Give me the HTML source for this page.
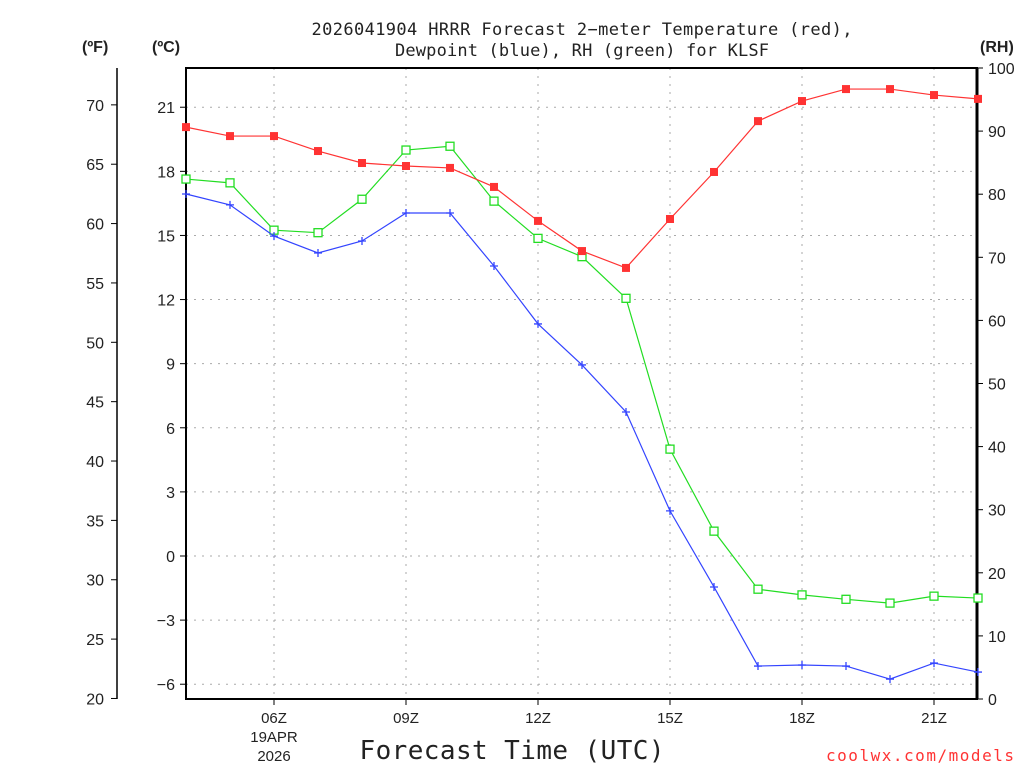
<!DOCTYPE html>
<html><head><meta charset="utf-8"><style>
body{margin:0;background:#fff;width:1024px;height:768px;overflow:hidden}
svg text{font-family:"Liberation Sans",sans-serif;fill:#222}
svg text.mono{font-family:"DejaVu Sans Mono","Liberation Mono",monospace}
</style></head><body>
<svg id="c" width="1024" height="768" xmlns="http://www.w3.org/2000/svg"></svg>
<script>
const hours=[4,5,6,7,8,9,10,11,12,13,14,15,16,17,18,19,20,21,22];
const tempC=[20.07,19.65,19.65,18.95,18.39,18.25,18.16,17.27,15.68,14.27,13.48,15.77,17.97,20.35,21.29,21.85,21.85,21.57,21.39];
const dewC=[16.94,16.43,14.97,14.18,14.74,16.05,16.05,13.57,10.86,8.94,6.74,2.11,-1.45,-5.15,-5.10,-5.15,-5.76,-5.01,-5.43];
const rh=[82.4,81.8,74.3,73.9,79.2,87.0,87.6,78.9,73.0,70.1,63.5,39.6,26.6,17.4,16.5,15.8,15.2,16.3,16.0];
const cTicks=[21,18,15,12,9,6,3,0,-3,-6];
const fTicks=[70,65,60,55,50,45,40,35,30,25,20];
const rhTicks=[0,10,20,30,40,50,60,70,80,90,100];
const xTicks=[6,9,12,15,18,21];
const xLabels=["06Z","09Z","12Z","15Z","18Z","21Z"];
const L=186,R=977,T=68,B=699;
const xS=h=>274+(h-6)*44;
const yC=c=>556-c*21.37;
const yF=f=>yC((f-32)*5/9);
const yR=r=>B-r*6.31;
const svg=document.getElementById('c');
const NS='http://www.w3.org/2000/svg';
function mk(t,a,p){const e=document.createElementNS(NS,t);for(const k in a)e.setAttribute(k,a[k]);(p||svg).appendChild(e);return e;}
function txt(s,x,y,a){const e=mk('text',Object.assign({x:x,y:y},a));e.textContent=s;return e;}
xTicks.forEach((h,i)=>{const g=mk('line',{x1:xS(h),x2:xS(h),y1:T,y2:B,stroke:'#aaa','stroke-dasharray':'2,6'});

mk('line',{x1:xS(h),x2:xS(h),y1:B,y2:B+6,stroke:'#000'});
const t=txt(xLabels[i],xS(h),723,{'text-anchor':'middle','font-size':15});
});
cTicks.forEach(c=>{const g=mk('line',{x1:L,x2:R,y1:yC(c),y2:yC(c),stroke:'#aaa','stroke-dasharray':'2,6'});

mk('line',{x1:L-6,x2:L,y1:yC(c),y2:yC(c),stroke:'#000'});
const t=txt(c<0?'\u2212'+(-c):String(c),175,yC(c)+6,{'text-anchor':'end','font-size':16});
});
fTicks.forEach(f=>{mk('line',{x1:111,x2:117,y1:yF(f),y2:yF(f),stroke:'#000'});
const t=txt(String(f),104,yF(f)+6,{'text-anchor':'end','font-size':16});
});
rhTicks.forEach(r=>{mk('line',{x1:R,x2:R+6,y1:yR(r),y2:yR(r),stroke:'#000'});
const t=txt(String(r),988,yR(r)+6,{'font-size':16});
});
mk('line',{x1:117,x2:117,y1:68,y2:699,stroke:'#000','stroke-width':1.5});
const fr=mk('rect',{x:L,y:T,width:R-L,height:B-T,fill:'none',stroke:'#000','stroke-width':2});

mk('line',{x1:R,x2:R,y1:T,y2:B,stroke:'#000','stroke-width':3});
function series(vals,yf,color,name,marker){
 const pts=vals.map((v,i)=>[xS(hours[i]),yf(v)]);
 const l=mk('polyline',{points:pts.map(p=>p.join(',')).join(' '),fill:'none',stroke:color,'stroke-width':1.2});
 
 pts.forEach(p=>{let m;
  if(marker==='fill')m=mk('rect',{x:p[0]-4,y:p[1]-4,width:8,height:8,fill:color});
  else if(marker==='open')m=mk('rect',{x:p[0]-4,y:p[1]-4,width:8,height:8,fill:'#fff',stroke:color,'stroke-width':1.3});
  else{m=mk('path',{d:`M${p[0]-4},${p[1]}h8M${p[0]},${p[1]-4}v8`,stroke:color,'stroke-width':1.3});}
  });
}
series(rh,yR,'#22dd22','rh','open');
series(dewC,yC,'#3344ff','dewpoint','plus');
series(tempC,yC,'#ff3333','temperature','fill');
let t;
t=txt('2026041904 HRRR Forecast 2\u2212meter Temperature (red),',582,35,{'text-anchor':'middle','font-size':17,'class':'mono','textLength':541});
t=txt('Dewpoint (blue), RH (green) for KLSF',582,56,{'text-anchor':'middle','font-size':17,'class':'mono','textLength':374});
t=txt('(ºF)',82,52,{'font-size':16,'font-weight':'bold'});
t=txt('(ºC)',152,52,{'font-size':16,'font-weight':'bold'});
t=txt('(RH)',980,52,{'font-size':16,'font-weight':'bold'});
t=txt('19APR',274,742,{'text-anchor':'middle','font-size':15});
t=txt('2026',274,761,{'text-anchor':'middle','font-size':15});
t=txt('Forecast Time (UTC)',512,759,{'text-anchor':'middle','font-size':26,'class':'mono','textLength':305});
t=txt('coolwx.com/models',1014,761,{'text-anchor':'end','font-size':16,'class':'mono','textLength':188});t.style.fill='#ff3333';
</script>
</body></html>
